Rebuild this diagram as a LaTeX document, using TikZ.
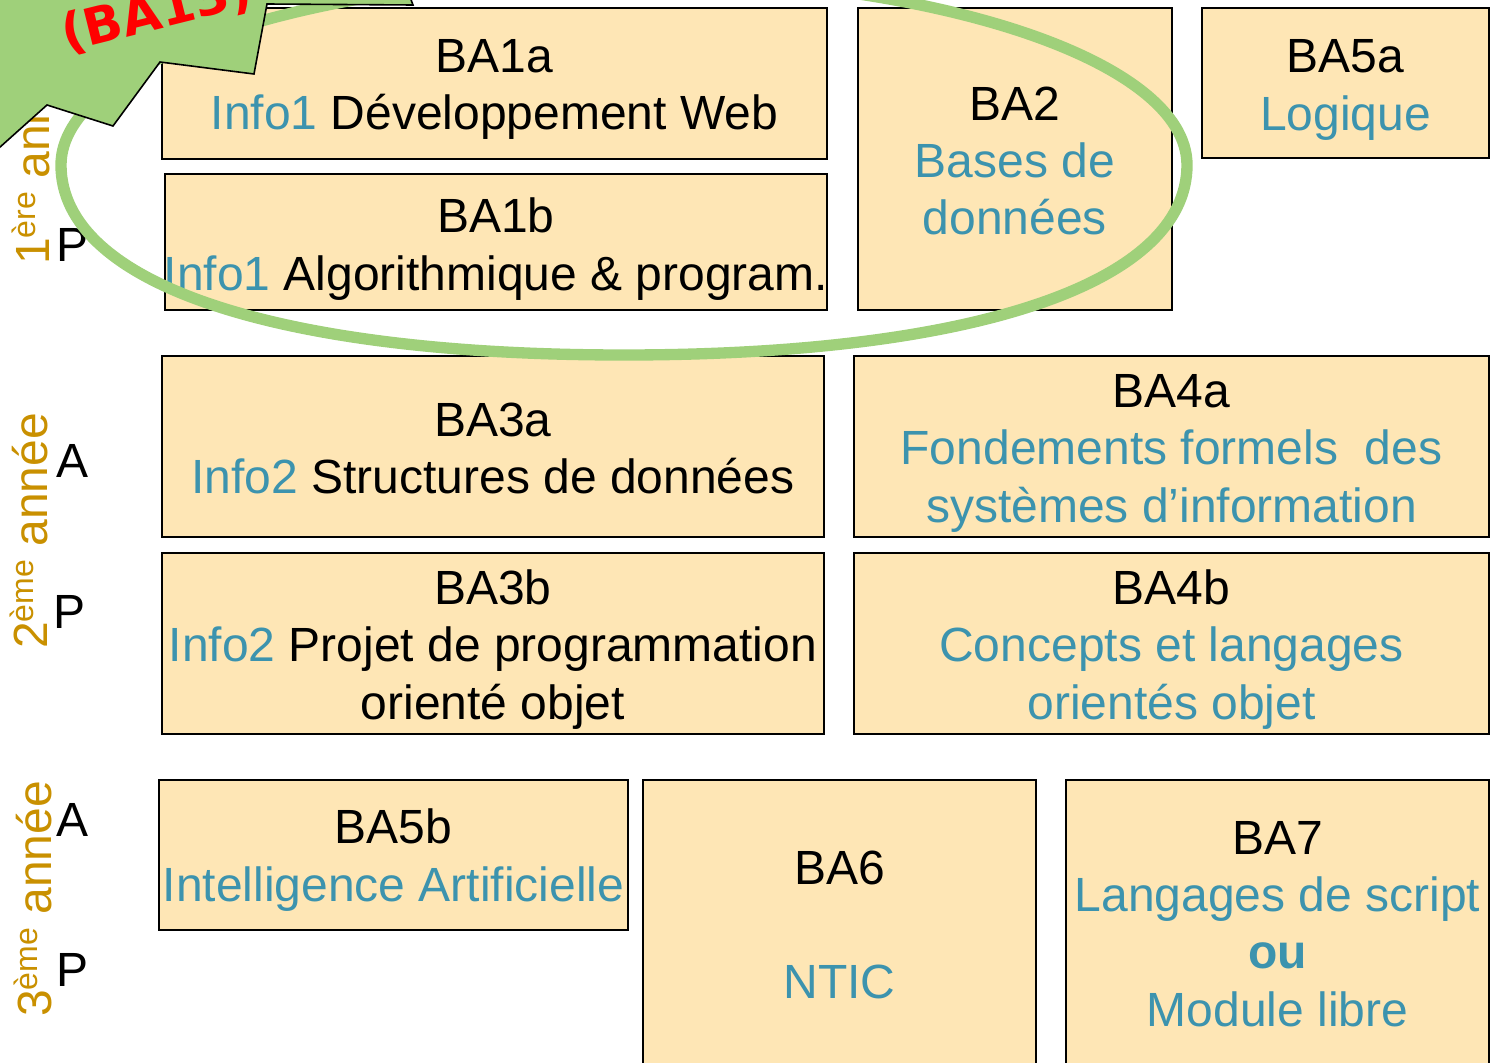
\documentclass[tikz,border=0pt]{standalone}
\usepackage{fontspec}
\setmainfont{Liberation Sans}
\usetikzlibrary{calc}
\definecolor{boxfill}{HTML}{FEE6B5}
\definecolor{infoblue}{HTML}{3C93AE}
\definecolor{yeargold}{HTML}{C99000}
\definecolor{ovalgreen}{HTML}{9FD07A}
\tikzset{
  course/.style={draw, fill=boxfill, line width=1.4pt, inner sep=0pt, anchor=north west},
  caption/.style={align=center, inner sep=0pt, font=\fontsize{36}{43}\selectfont},
  term/.style={font=\fontsize{36}{40}\selectfont, anchor=center, inner sep=0pt},
  year/.style={font=\fontsize{36}{40}\selectfont, text=yeargold, rotate=90, anchor=base west, inner sep=0pt}
}
\newcommand{\info}[1]{\textcolor{infoblue}{#1}}
\newcommand{\ordinal}[1]{\raisebox{10.5pt}{\fontsize{24}{24}\selectfont #1}}
\newcommand{\sizedcourse}[7]{
    \node[course, minimum width=#4*0.75pt, minimum height=#5*0.75pt] (#1) at (#2-1,#3-1) {};
    \node[caption] (#1-text) at ($(#1.center)+(0,#6)$) {#7};
}
\begin{document}
\begin{tikzpicture}[x=0.75pt, y=-0.75pt]
    \useasboundingbox (0,0) rectangle (1496,1063);
    \clip (0,0) rectangle (1496,1063);

    % Year labels
    \node[year] (Y1) at (49,265) {1\ordinal{ère} année};
    \node[year] (Y2) at (47,649) {2\ordinal{ème} année};
    \node[year] (Y3) at (51,1017) {3\ordinal{ème} année};

    \node[term] (P1) at (73,245) {P};
    \node[term] (A2) at (73,461) {A};
    \node[term] (P2) at (70,612) {P};
    \node[term] (A3) at (73,820) {A};
    \node[term] (P3) at (73,970) {P};

    % Courses
    \sizedcourse{BA1a}{162}{8}{665}{151}{6}{BA1a\\\info{Info1} Développement Web}
    \sizedcourse{BA1b}{165}{174}{662}{136}{7}{BA1b\\\info{Info1} Algorithmique \& program.}
    \sizedcourse{BA2}{858}{8}{314}{302}{2}{BA2\\\info{Bases de}\\\info{données}}
    \sizedcourse{BA5a}{1202}{8}{287}{150}{7}{BA5a\\\info{Logique}}
    \sizedcourse{BA3a}{162}{356}{662}{181}{2}{BA3a\\\info{Info2} Structures de données}
    \sizedcourse{BA4a}{854}{356}{635}{181}{7}{BA4a\\\info{Fondements formels\ \ des}\\\info{systèmes d’information}}
    \sizedcourse{BA3b}{162}{553}{662}{181}{6}{BA3b\\\info{Info2} Projet de programmation\\orienté objet}
    \sizedcourse{BA4b}{854}{553}{635}{181}{6}{BA4b\\\info{Concepts et langages}\\\info{orientés objet}}
    \sizedcourse{BA5b}{159}{780}{469}{150}{5}{BA5b\\\info{Intelligence Artificielle}}
    \sizedcourse{BA6}{643}{780}{393}{300}{-5}{BA6\\[43pt]\info{NTIC}}
    \sizedcourse{BA7}{1066}{780}{423}{300}{-6}{BA7\\\info{Langages de script}\\\info{\textbf{ou}}\\\info{Module libre}}

    % Oval and star
    \draw[ovalgreen, line width=8.5pt] (61,165) .. controls (61,61) and (312,-23) .. (624,-23)
        .. controls (936,-23) and (1187,61) .. (1187,165)
        .. controls (1187,283) and (975,355) .. (624,355)
        .. controls (273,355) and (61,283) .. (61,165) -- cycle;
    \draw[fill=ovalgreen, line width=1.2pt] (-20,165) -- (47,105) -- (113,126) -- (160,62) -- (254,74) -- (267,4) -- (413,5) -- (400,-30) -- (-20,-30) -- cycle;
    \node[rotate=14, text=red, font=\fontsize{38}{40}\bfseries\fontspec{DejaVu Sans}\selectfont, inner sep=0pt] (star) at (157,13) {(BA13)};
\end{tikzpicture}
\end{document}
